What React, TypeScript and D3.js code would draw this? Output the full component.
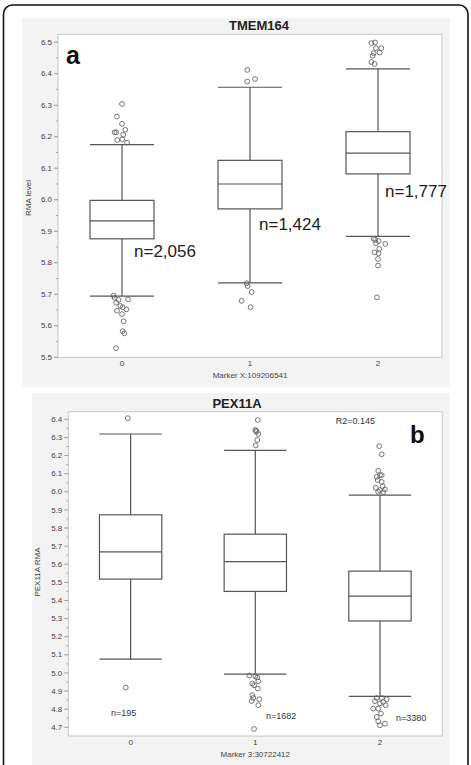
import React from "react";
import * as d3 from "d3";

// ---- panel a : TMEM164 ----
const aCategories = ["0", "1", "2"];
const aLowWhisker = [5.694, 5.736, 5.884];
const aQ1 = [5.876, 5.971, 6.082];
const aMedian = [5.933, 6.05, 6.148];
const aQ3 = [5.998, 6.125, 6.216];
const aHighWhisker = [6.175, 6.357, 6.415];
const aCounts = ["n=2,056", "n=1,424", "n=1,777"];
const aTicks = [5.5, 5.6, 5.7, 5.8, 5.9, 6.0, 6.1, 6.2, 6.3, 6.4, 6.5];
// outliers: [value, horizontal jitter in category units]
const aOutliers0: [number, number][] = [
  [6.304, 0], [6.264, -0.04], [6.241, 0], [6.222, 0.026], [6.214, -0.058],
  [6.214, -0.045], [6.206, 0.01], [6.19, -0.037], [6.192, 0.002], [6.181, 0.039],
  [5.696, -0.066], [5.689, -0.058], [5.682, -0.027], [5.684, 0.047], [5.673, -0.045],
  [5.663, -0.013], [5.659, 0.005], [5.652, 0.034], [5.648, -0.039], [5.637, 0],
  [5.614, 0.013], [5.583, 0.005], [5.576, 0.018], [5.529, -0.047],
];
const aOutliers1: [number, number][] = [
  [6.412, -0.021], [6.375, -0.021], [6.383, 0.039],
  [5.735, -0.026], [5.726, -0.018], [5.707, 0.013], [5.679, -0.065], [5.659, 0.005],
];
const aOutliers2: [number, number][] = [
  [6.499, -0.023], [6.497, -0.052], [6.481, -0.016], [6.481, 0.026], [6.465, -0.034],
  [6.467, 0.013], [6.457, -0.042], [6.437, -0.052], [6.431, -0.027],
  [5.876, -0.034], [5.873, -0.021], [5.869, 0.005], [5.862, -0.016], [5.86, 0.057],
  [5.844, 0.01], [5.833, -0.027], [5.83, 0.005], [5.812, 0], [5.791, 0], [5.69, -0.008],
];

// ---- panel b : PEX11A ----
const bCategories = ["0", "1", "2"];
const bLowWhisker = [5.076, 4.994, 4.871];
const bQ1 = [5.518, 5.45, 5.287];
const bMedian = [5.668, 5.615, 5.424];
const bQ3 = [5.873, 5.766, 5.562];
const bHighWhisker = [6.319, 6.229, 5.982];
const bCounts = ["n=195", "n=1682", "n=3380"];
const bTicks = [4.7, 4.8, 4.9, 5.0, 5.1, 5.2, 5.3, 5.4, 5.5, 5.6, 5.7, 5.8, 5.9, 6.0, 6.1, 6.2, 6.3, 6.4];
const bOutliers0: [number, number][] = [[6.406, -0.023], [4.919, -0.039]];
const bOutliers1: [number, number][] = [
  [6.396, 0.02], [6.341, 0], [6.331, 0.01], [6.336, 0.006], [6.319, 0.024],
  [6.286, 0.016], [6.256, 0.003],
  [4.986, -0.048], [4.982, 0], [4.975, 0.016], [4.954, 0.024], [4.941, -0.024],
  [4.932, -0.01], [4.914, 0.02], [4.877, -0.024], [4.862, -0.016], [4.845, -0.029],
  [4.855, 0.032], [4.822, 0.024], [4.691, -0.01],
];
const bOutliers2: [number, number][] = [
  [6.252, -0.006], [6.207, 0.014], [6.116, -0.014], [6.092, 0], [6.083, -0.026],
  [6.092, 0.014], [6.065, -0.018], [6.055, 0.014], [6.031, 0.022], [6.022, -0.034],
  [6.009, 0], [6.013, 0.04], [6.0, -0.014], [5.997, 0.026],
  [4.862, -0.026], [4.862, 0.014], [4.855, 0.054], [4.844, -0.04], [4.84, 0.026],
  [4.831, 0], [4.822, 0.046], [4.803, -0.054], [4.803, -0.014], [4.776, 0.008],
  [4.757, -0.026], [4.733, -0.014], [4.72, 0.04], [4.711, 0],
];

const FONT = "'Liberation Sans', Arial, Helvetica, sans-serif";
const INK = "#555";

interface PanelProps {
  left: number;
  right: number;
  top: number;
  bottom: number;
  yDomain: [number, number];
  ticks: number[];
  categories: string[];
  low: number[];
  q1: number[];
  med: number[];
  q3: number[];
  high: number[];
  outliers: [number, number][][];
  xTitle: string;
  yTitle: string;
  yTitleY: number;
  yTitleX: number;
}

function BoxPanel(p: PanelProps) {
  const x = d3.scaleLinear().domain([-0.5, 2.5]).range([p.left, p.right]);
  const y = d3.scaleLinear().domain(p.yDomain).range([p.bottom, p.top]);
  const halfW = 0.25;
  const minor = p.ticks.slice(0, -1).map((t) => t + 0.05);
  return (
    <g>
      <rect x={p.left} y={p.top} width={p.right - p.left} height={p.bottom - p.top}
        fill="#fff" stroke="#c8c8c8" strokeWidth={1} />
      {p.ticks.map((t) => (
        <g key={t}>
          <line x1={p.left - 4} x2={p.left} y1={y(t)} y2={y(t)} stroke="#999" />
          <text x={p.left - 6} y={y(t)} dy="0.33em" textAnchor="end" fontSize={8}
            fill="#444" fontFamily={FONT}>{t.toFixed(1)}</text>
        </g>
      ))}
      {minor.map((t) => (
        <line key={"m" + t} x1={p.left - 2} x2={p.left} y1={y(t)} y2={y(t)} stroke="#aaa" />
      ))}
      {p.categories.map((c, i) => (
        <g key={c}>
          <text x={x(i)} y={p.bottom + 8.5} textAnchor="middle" fontSize={8} fill="#444"
            fontFamily={FONT}>{c}</text>
          <line x1={x(i)} x2={x(i)} y1={y(p.high[i])} y2={y(p.q3[i])} stroke={INK} strokeWidth={1.2} />
          <line x1={x(i)} x2={x(i)} y1={y(p.q1[i])} y2={y(p.low[i])} stroke={INK} strokeWidth={1.2} />
          <line x1={x(i - halfW)} x2={x(i + halfW)} y1={y(p.high[i])} y2={y(p.high[i])}
            stroke={INK} strokeWidth={1.2} />
          <line x1={x(i - halfW)} x2={x(i + halfW)} y1={y(p.low[i])} y2={y(p.low[i])}
            stroke={INK} strokeWidth={1.2} />
          <rect x={x(i - halfW)} y={y(p.q3[i])} width={x(i + halfW) - x(i - halfW)}
            height={y(p.q1[i]) - y(p.q3[i])} fill="#fff" stroke={INK} strokeWidth={1.2} />
          <line x1={x(i - halfW)} x2={x(i + halfW)} y1={y(p.med[i])} y2={y(p.med[i])}
            stroke={INK} strokeWidth={1.2} />
          {p.outliers[i].map(([v, j], k) => (
            <circle key={k} cx={x(i + j)} cy={y(v)} r={2.4} fill="none" stroke="#666" strokeWidth={0.9} />
          ))}
        </g>
      ))}
      <text x={(p.left + p.right) / 2} y={p.bottom + 21} textAnchor="middle" fontSize={8}
        fill="#444" fontFamily={FONT}>{p.xTitle}</text>
      <text transform={`translate(${p.yTitleX},${p.yTitleY}) rotate(-90)`} textAnchor="middle"
        fontSize={8} fill="#444" fontFamily={FONT}>{p.yTitle}</text>
    </g>
  );
}

export default function App() {
  return (
    <div style={{ position: "absolute", left: 0, top: 0 }}>
      <svg width={471} height={765} style={{ display: "block", background: "#fff" }}>
        <rect x={3.5} y={5} width={464.5} height={800} rx={9} fill="#fff" stroke="#111" strokeWidth={1.6} />

        {/* panel a */}
        <rect x={22} y={18} width={428} height={369} fill="#f3f3f3" />
        <text x={259} y={30} textAnchor="middle" fontSize={13} fontWeight="bold" fill="#222"
          fontFamily={FONT}>TMEM164</text>
        <BoxPanel left={58} right={442} top={34.3} bottom={357.3} yDomain={[5.5, 6.525]}
          ticks={aTicks} categories={aCategories} low={aLowWhisker} q1={aQ1} med={aMedian}
          q3={aQ3} high={aHighWhisker} outliers={[aOutliers0, aOutliers1, aOutliers2]}
          xTitle="Marker X:109206541" yTitle="RMA level" yTitleX={31} yTitleY={198} />
        <text x={66} y={64} fontSize={25} fontWeight="bold" fill="#111" fontFamily={FONT}>a</text>
        {aCounts.map((n, i) => (
          <text key={n} x={[134, 259, 385][i]} y={[257, 230, 196.7][i]} fontSize={17}
            fill="#222" fontFamily={FONT}>{n}</text>
        ))}

        {/* panel b */}
        <rect x={32} y={393} width={418} height={380} fill="#f3f3f3" />
        <text x={237} y={407.5} textAnchor="middle" fontSize={13} fontWeight="bold" fill="#222"
          fontFamily={FONT}>PEX11A</text>
        <BoxPanel left={68.3} right={442.3} top={411.7} bottom={736} yDomain={[4.652, 6.442]}
          ticks={bTicks} categories={bCategories} low={bLowWhisker} q1={bQ1} med={bMedian}
          q3={bQ3} high={bHighWhisker} outliers={[bOutliers0, bOutliers1, bOutliers2]}
          xTitle="Marker 3:30722412" yTitle="PEX11A RMA" yTitleX={40} yTitleY={572} />
        <text x={335.7} y={424.3} fontSize={9} fill="#333" fontFamily={FONT}>R2=0.145</text>
        <text x={410} y={443.3} fontSize={24} fontWeight="bold" fill="#111" fontFamily={FONT}>b</text>
        {bCounts.map((n, i) => (
          <text key={n} x={[111, 266, 396][i]} y={[716, 719, 721][i]} fontSize={9}
            fill="#333" fontFamily={FONT}>{n}</text>
        ))}
      </svg>
    </div>
  );
}
